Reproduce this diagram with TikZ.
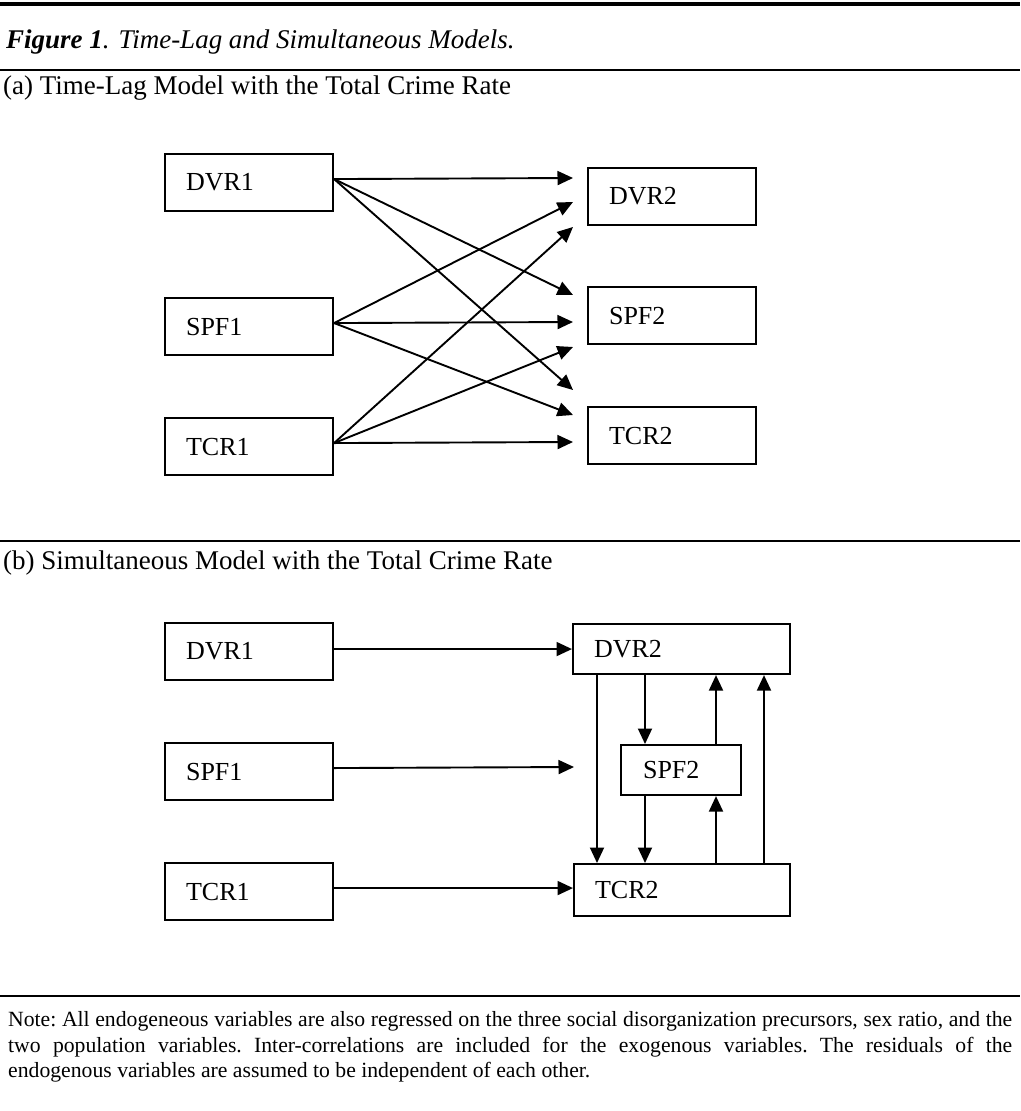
\documentclass[tikz,border=0pt]{standalone}
\usepackage{fontspec}
\setmainfont{Liberation Serif}
\usetikzlibrary{arrows.meta}
\begin{document}
\begin{tikzpicture}[x=1pt,y=-1pt,
  var/.style={draw, line width=2.1pt, anchor=north west, align=left,
    inner xsep=21pt, inner ysep=0pt, minimum height=57pt,
    text width=126pt, font=\fontsize{26}{30}\selectfont},
  link/.style={line width=1.9pt, -{Triangle[length=15.5pt,width=14pt]}},
  rulebar/.style={line width=2.5pt},
  heading/.style={anchor=base west, inner sep=0pt, font=\fontsize{27}{32}\selectfont}]

% page and horizontal rules
\fill[white] (0,0) rectangle (1020,1111);
\useasboundingbox (0,0) rectangle (1020,1111);
\draw[line width=4.5pt] (0,4) -- (1020,4);
\draw[rulebar] (0,70) -- (1020,70);
\draw[rulebar] (0,541) -- (1020,541);
\draw[rulebar] (0,996) -- (1020,996);

% captions
\node[heading] (title) at (6,48) {\itshape\textbf{Figure 1}. Time-Lag and Simultaneous Models.};
\node[heading] (capA) at (3,94) {(a) Time-Lag Model with the Total Crime Rate};
\node[heading] (capB) at (3,569) {(b) Simultaneous Model with the Total Crime Rate};

% ---- (a) time-lag model ----
\node[var] (DVR1) at (164,153) {DVR1};
\node[var] (SPF1) at (164,297) {SPF1};
\node[var] (TCR1) at (164,417) {TCR1};
\node[var] (DVR2) at (587,167) {DVR2};
\node[var] (SPF2) at (587,286) {SPF2};
\node[var] (TCR2) at (587,406) {TCR2};

% arrow tips stop short of the wave-2 boxes
\coordinate (dd) at (573,178);
\coordinate (sd) at (573,202);
\coordinate (td) at (573,227);
\coordinate (ds) at (573,295);
\coordinate (ss) at (573,322);
\coordinate (ts) at (573,347);
\coordinate (dt) at (573,390);
\coordinate (st) at (573,415);
\coordinate (tt) at (573,442);

\draw[link] ([yshift=3.5pt]DVR1.east) -- (dd);
\draw[link] ([yshift=3.5pt]DVR1.east) -- (ds);
\draw[link] ([yshift=3.5pt]DVR1.east) -- (dt);
\draw[link] ([yshift=3.5pt]SPF1.east) -- (sd);
\draw[link] ([yshift=3.5pt]SPF1.east) -- (ss);
\draw[link] ([yshift=3.5pt]SPF1.east) -- (st);
\draw[link] ([yshift=3.5pt]TCR1.east) -- (td);
\draw[link] ([yshift=3.5pt]TCR1.east) -- (ts);
\draw[link] ([yshift=3.5pt]TCR1.east) -- (tt);

% ---- (b) simultaneous model ----
\node[var] (DVR1b) at (164,622) {DVR1};
\node[var] (SPF1b) at (164,742) {SPF1};
\node[var] (TCR1b) at (164,862) {TCR1};
\node[var, minimum height=50pt, text width=175pt] (DVR2b) at (572,623) {DVR2};
\node[var, minimum height=50pt, text width=76pt, inner xsep=22pt] (SPF2b) at (620,744) {SPF2};
\node[var, minimum height=52pt, text width=174pt] (TCR2b) at (573,863) {TCR2};

\coordinate (sfree) at (574,767);

\draw[link] ([yshift=2.5pt]DVR1b.east) -- ([yshift=2.5pt]DVR1b.east -| DVR2b.west);
\draw[link] ([yshift=3.5pt]SPF1b.east) -- (sfree);
\draw[link] ([yshift=3.5pt]TCR1b.east) -- ([yshift=3.5pt]TCR1b.east -| TCR2b.west);

\draw[link] ([xshift=25pt]DVR2b.south west) -- ([xshift=25pt]DVR2b.south west |- TCR2b.north);
\draw[link] ([xshift=25pt]SPF2b.north west |- DVR2b.south) -- ([xshift=25pt]SPF2b.north west);
\draw[link] ([xshift=96pt]SPF2b.north west) -- ([xshift=96pt]SPF2b.north west |- DVR2b.south);
\draw[link] ([xshift=25pt]SPF2b.south west) -- ([xshift=25pt]SPF2b.south west |- TCR2b.north);
\draw[link] ([xshift=96pt]SPF2b.south west |- TCR2b.north) -- ([xshift=96pt]SPF2b.south west);
\draw[link] ([xshift=192pt]DVR2b.south west |- TCR2b.north) -- ([xshift=192pt]DVR2b.south west);

% note
\node[anchor=north west, text width=1004pt, align=justify, inner sep=0pt,
  font=\fontsize{21.7}{25.8}\selectfont] (note) at (8,1011)
  {\frenchspacing Note: All endogeneous variables are also regressed on the three social disorganization precursors, sex ratio, and the\linebreak
   two population variables. Inter-correlations are included for the exogenous variables. The residuals of the\linebreak
   endogenous variables are assumed to be independent of each other.};
\end{tikzpicture}
\end{document}
